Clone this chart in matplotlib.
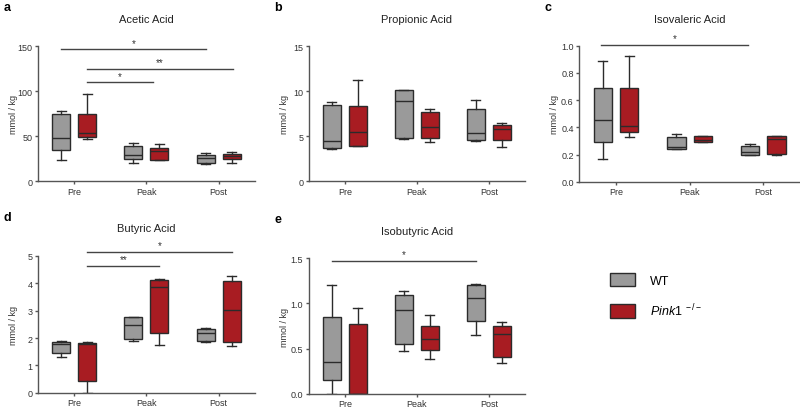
import matplotlib
matplotlib.use("Agg")
import matplotlib.pyplot as plt
from matplotlib.patches import Patch
from matplotlib.ticker import FormatStrFormatter

plt.rcParams['font.family'] = ['Liberation Sans', 'DejaVu Sans']
plt.rcParams['mathtext.fontset'] = 'custom'
plt.rcParams['mathtext.it'] = 'Liberation Sans:italic'
plt.rcParams['mathtext.rm'] = 'Liberation Sans'

groups = ['Pre', 'Peak', 'Post']

# box stats per group: [min, q1, median, q3, max]
acetic_wt = [[23.5, 34.7, 47.8, 74.6, 77.6], [20.5, 24, 29, 39, 42], [19, 20.5, 25.4, 28.7, 31]]
acetic_ko = [[47, 49.3, 53.4, 74.6, 96.3], [23.5, 23.5, 33.6, 37, 41], [20, 24, 28, 30.6, 32]]
propionic_wt = [[3.57, 3.7, 4.48, 8.45, 8.8], [4.66, 4.84, 8.88, 10.08, 10.16], [4.48, 4.55, 5.39, 8.0, 9.03]]
propionic_ko = [[3.93, 3.93, 5.4, 8.37, 11.2], [4.3, 4.8, 5.97, 7.72, 8.0], [3.82, 4.59, 5.8, 6.26, 6.44]]
isovaleric_wt = [[0.17, 0.29, 0.456, 0.693, 0.885], [0.24, 0.24, 0.256, 0.327, 0.35], [0.198, 0.198, 0.217, 0.263, 0.276]]
isovaleric_ko = [[0.33, 0.363, 0.412, 0.688, 0.924], [0.29, 0.29, 0.31, 0.334, 0.34], [0.2, 0.205, 0.317, 0.337, 0.34]]
butyric_wt = [[1.31, 1.45, 1.78, 1.87, 1.89], [1.89, 1.96, 2.47, 2.76, 2.76], [1.84, 1.89, 2.19, 2.33, 2.35]]
butyric_ko = [[0.0, 0.42, 1.78, 1.82, 1.84], [1.73, 2.2, 3.88, 4.13, 4.16], [1.71, 1.87, 3.01, 4.1, 4.25]]
isobutyric_wt = [[0.0, 0.15, 0.35, 0.847, 1.204], [0.478, 0.555, 0.93, 1.09, 1.135], [0.653, 0.803, 1.055, 1.204, 1.21]]
isobutyric_ko = [[0.0, 0.0, 0.0, 0.774, 0.953], [0.39, 0.489, 0.61, 0.755, 0.869], [0.336, 0.41, 0.66, 0.755, 0.792]]

# significance bars: (x_start, x_end, y, label)
acetic_sig = [(-0.18, 1.82, 146.6, '*'), (0.18, 2.2, 124.6, '**'), (0.18, 1.09, 109.7, '*')]
isovaleric_sig = [(-0.2, 1.8, 1.007, '*')]
butyric_sig = [(0.18, 2.18, 5.14, '*'), (0.18, 1.18, 4.64, '**')]
isobutyric_sig = [(-0.18, 1.82, 1.47, '*')]

GRAY = '#9a9a9a'
RED = '#a81c22'
EDGE = '#2b2b2b'
SPINE = '#555555'


def stats(rows):
    return [dict(whislo=r[0], q1=r[1], med=r[2], q3=r[3], whishi=r[4], fliers=[]) for r in rows]


def panel(rect, letter, title, wt, ko, ymax, yticks, fmt, sig):
    ax = fig.add_axes(rect)
    off, w = 0.18, 0.25
    for data, sign, color in [(wt, -1, GRAY), (ko, 1, RED)]:
        pos = [i + sign * off for i in range(len(groups))]
        ax.bxp(stats(data), positions=pos, widths=w, patch_artist=True,
               showfliers=False,
               boxprops=dict(facecolor=color, edgecolor=EDGE, linewidth=1),
               medianprops=dict(color=EDGE, linewidth=1),
               whiskerprops=dict(color=EDGE, linewidth=1),
               capprops=dict(color=EDGE, linewidth=1))
    ax.set_xlim(-0.5, 2.5)
    ax.set_ylim(0, ymax)
    ax.set_xticks(range(len(groups)))
    ax.set_xticklabels(groups)
    ax.set_yticks(yticks)
    if fmt:
        ax.yaxis.set_major_formatter(FormatStrFormatter(fmt))
    for s in ['top', 'right']:
        ax.spines[s].set_visible(False)
    for s in ['left', 'bottom']:
        ax.spines[s].set_color(SPINE)
        ax.spines[s].set_linewidth(1)
    ax.tick_params(labelsize=6.5, colors='#333333', length=2.5, width=1, pad=1.5)
    ax.tick_params(axis='both', color=SPINE)
    ax.set_ylabel('mmol / kg', fontsize=6.5, color='#333333')
    # label sits about 20 px left of the spine
    ax.yaxis.set_label_coords(-20 / (rect[2] * 800), 0.5)
    ax.text(0.5, 1.2, title, transform=ax.transAxes, ha='center', va='center',
            fontsize=8, color='#222222')
    for x0, x1, y, lab in sig:
        ax.plot([x0, x1], [y, y], color='#444444', lw=1, clip_on=False)
        ax.text((x0 + x1) / 2, y + ymax * 0.012, lab, ha='center', va='bottom',
                fontsize=7, color='#333333', clip_on=False)
    fig.text(rect[0] - 0.043, rect[1] + rect[3] + 0.095, letter, fontsize=9,
             fontweight='bold', ha='left', va='center')
    return ax


fig = plt.figure(figsize=(8, 4.1), dpi=100)

panel([0.0475, 0.556, 0.271, 0.329], 'a', 'Acetic Acid', acetic_wt, acetic_ko,
      150, [0, 50, 100, 150], None, acetic_sig)
panel([0.386, 0.556, 0.270, 0.329], 'b', 'Propionic Acid', propionic_wt, propionic_ko,
      15, [0, 5, 10, 15], None, [])
panel([0.724, 0.554, 0.276, 0.332], 'c', 'Isovaleric Acid', isovaleric_wt, isovaleric_ko,
      1.0, [0, 0.2, 0.4, 0.6, 0.8, 1.0], '%.1f', isovaleric_sig)
panel([0.0475, 0.0395, 0.271, 0.334], 'd', 'Butyric Acid', butyric_wt, butyric_ko,
      5, [0, 1, 2, 3, 4, 5], None, butyric_sig)
panel([0.386, 0.037, 0.270, 0.331], 'e', 'Isobutyric Acid', isobutyric_wt, isobutyric_ko,
      1.5, [0, 0.5, 1.0, 1.5], '%.1f', isobutyric_sig)

handles = [Patch(facecolor=GRAY, edgecolor=EDGE, linewidth=1),
           Patch(facecolor=RED, edgecolor=EDGE, linewidth=1)]
fig.legend(handles, ['WT', r'$\mathit{Pink1}^{\ -/-}$'], loc='upper left',
           bbox_to_anchor=(0.748, 0.36), frameon=False, fontsize=9,
           handlelength=2.0, handleheight=1.3, labelspacing=1.2, handletextpad=1.2)

fig.savefig('out.png', dpi=100)
